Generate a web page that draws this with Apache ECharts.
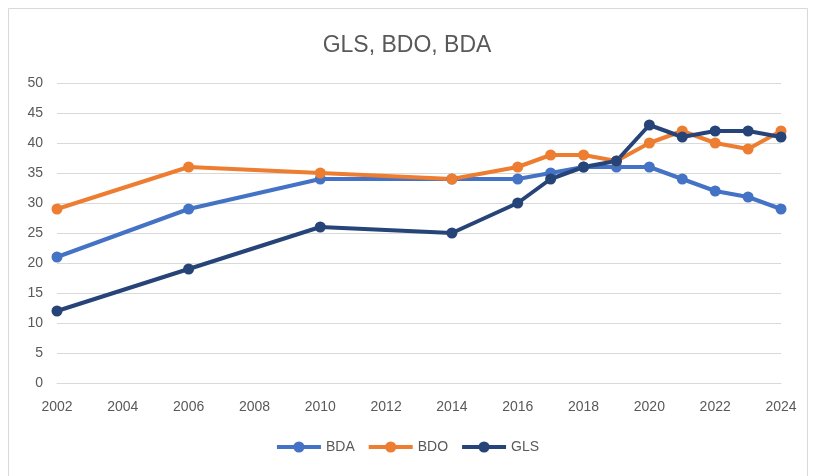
<!DOCTYPE html>
<html>
<head>
<meta charset="utf-8">
<script src="https://cdn.jsdelivr.net/npm/echarts@6/dist/echarts.min.js"></script>
<style>
  html, body { margin: 0; padding: 0; background: #fff; }
  #main { width: 814px; height: 476px; }
</style>
</head>
<body>
<div id="main"></div>
<script>
// data
var years = [2002, 2006, 2010, 2014, 2016, 2017, 2018, 2019, 2020, 2021, 2022, 2023, 2024];
var bda = [21, 29, 34, 34, 34, 35, 36, 36, 36, 34, 32, 31, 29];
var bdo = [29, 36, 35, 34, 36, 38, 38, 37, 40, 42, 40, 39, 42];
var gls = [12, 19, 26, 25, 30, 34, 36, 37, 43, 41, 42, 42, 41];

function pairs(vals) {
  return years.map(function (y, i) { return [y, vals[i]]; });
}

var font = 'Liberation Sans';
var txt = '#595959';

function line(name, color, vals) {
  return {
    name: name,
    type: 'line',
    data: pairs(vals),
    symbol: 'circle',
    symbolSize: 11,
    lineStyle: { color: color, width: 4 },
    itemStyle: { color: color },
    emphasis: { disabled: true }
  };
}

var chart = echarts.init(document.getElementById('main'));
chart.setOption({
  animation: false,
  backgroundColor: '#fff',
  textStyle: { fontFamily: font },
  title: {
    text: 'GLS, BDO, BDA',
    left: 'center',
    top: 29,
    textStyle: { fontFamily: font, fontSize: 23, fontWeight: 'normal', color: txt }
  },
  graphic: [{
    type: 'rect',
    shape: { x: 8.5, y: 8.5, width: 799, height: 480 },
    style: { fill: 'none', stroke: '#d9d9d9', lineWidth: 1 },
    silent: true
  }],
  legend: {
    bottom: 17,
    left: 'center',
    itemWidth: 44,
    itemHeight: 14,
    itemGap: 12,
    lineStyle: { width: 4 },
    textStyle: { fontFamily: font, fontSize: 14, color: txt },
    data: ['BDA', 'BDO', 'GLS']
  },
  grid: { left: 57, right: 33, top: 83, bottom: 93, containLabel: false },
  xAxis: {
    type: 'value',
    min: 2002,
    max: 2024,
    interval: 2,
    axisLine: { show: true, lineStyle: { color: '#d9d9d9', width: 1 } },
    axisTick: { show: false },
    splitLine: { show: false },
    axisLabel: {
      color: txt, fontSize: 14, fontFamily: font, margin: 17,
      formatter: function (v) { return String(v); }
    }
  },
  yAxis: {
    type: 'value',
    min: 0,
    max: 50,
    interval: 5,
    axisLine: { show: false },
    axisTick: { show: false },
    splitLine: { lineStyle: { color: '#d9d9d9', width: 1 } },
    axisLabel: { color: txt, fontSize: 14, fontFamily: font, margin: 14 }
  },
  series: [
    line('BDA', '#4472c4', bda),
    line('BDO', '#ed7d31', bdo),
    line('GLS', '#264478', gls)
  ]
});
</script>
</body>
</html>
